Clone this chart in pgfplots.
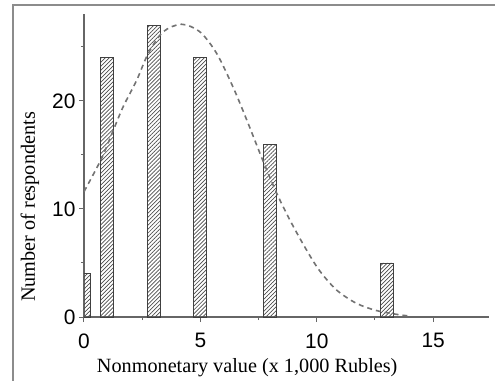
\documentclass[border=0pt]{standalone}
\usepackage{fontspec}
\setmainfont{Liberation Serif}
\newfontfamily\arialfont{Liberation Sans}
\usepackage{pgfplots}
\pgfplotsset{compat=1.18}
\usetikzlibrary{patterns.meta}
\begin{document}
\begin{tikzpicture}
\useasboundingbox (-84bp,-64bp) rectangle (411bp,317bp);
\draw[line width=2bp, gray!90] (-71bp,-64bp) -- (-71bp,312bp) -- (411bp,312bp);
\begin{axis}[
  at={(0,0)}, anchor=south west,
  scale only axis, width=405bp, height=303bp,
  xmin=0, xmax=17.4, ymin=0, ymax=28.05,
  axis x line*=bottom, axis y line*=left,
  axis line style={-, draw=black!60, line width=1.2bp},
  xtick={0,5,10,15}, minor xtick={2.5,7.5,12.5},
  ytick={0,10,20}, minor ytick={5,15,25},
  tick align=outside, major tick length=5bp, minor tick length=3bp,
  tick style={draw=black!60, line width=1bp},
  /pgf/number format/assume math mode=true,
  ticklabel style={font=\arialfont\fontsize{21}{21}\selectfont},
  xticklabel style={yshift=-8bp},
  xlabel={Nonmonetary value (x 1,000 Rubles)},
  ylabel={Number of respondents},
  label style={font=\fontsize{20.3}{20.3}\selectfont},
  xlabel style={at={(axis description cs:0.403,-0.167)}, anchor=center},
  ylabel style={at={(axis description cs:-0.1333,0.363)}, anchor=center},
  clip=true,
]
\addplot[ybar, bar width=0.56, draw=black!75, line width=0.8bp, pattern={Lines[angle=45, distance=2.8bp, line width=0.7bp]}, pattern color=black!70]
  coordinates {(0,4) (1,24) (3,27) (5,24) (8,16) (13,5)};
\addplot[smooth, no markers, draw=black!55, line width=1.6bp, dash pattern=on 5bp off 4bp]
  coordinates {(0,11.6) (0.76,14.7) (1.26,17.3) (1.69,19.5) (2.26,21.9) (2.76,24.4) (3.4,26.4) (4.19,27.1) (4.98,26.4) (5.7,24.4) (6.4,21.3) (7.0,18.2) (7.7,14.4) (8.27,11.5) (8.84,9.0) (9.48,6.5) (10.1,4.35) (10.85,2.5) (11.7,1.27) (12.56,0.6) (13.56,0.2) (14.0,0.1)};
\end{axis}
\end{tikzpicture}
\end{document}
